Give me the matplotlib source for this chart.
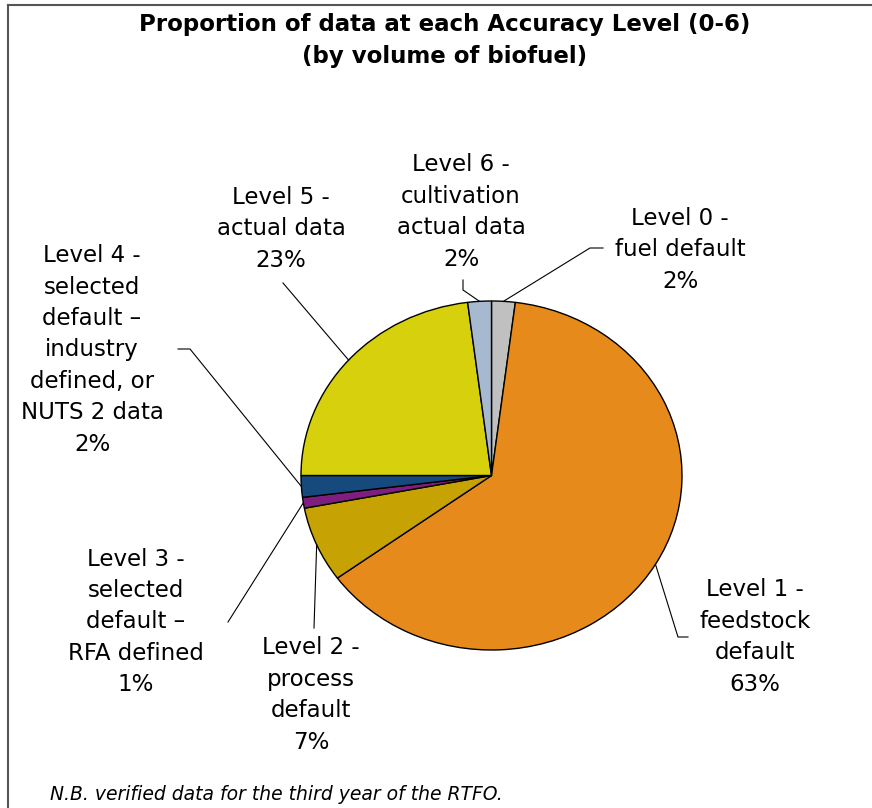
import numpy as np
import matplotlib
matplotlib.use("Agg")
import matplotlib.pyplot as plt
from matplotlib.lines import Line2D

# accuracy levels, clockwise from 12 o'clock
levels = ["Level 0 -\nfuel default", "Level 1 -\nfeedstock\ndefault",
          "Level 2 -\nprocess\ndefault", "Level 3 -\nselected\ndefault \u2013\nRFA defined",
          "Level 4 -\nselected\ndefault \u2013\nindustry\ndefined, or\nNUTS 2 data",
          "Level 5 -\nactual data", "Level 6 -\ncultivation\nactual data"]
shares = [2, 63, 7, 1, 2, 23, 2]
colors = ["#C0C0C0", "#E68B1B", "#C6A203", "#7E1F80", "#174A7C", "#D6D00D", "#A6B9CF"]

W, H = 872, 808
# label centre (px, from top) and leader line bend points (px, from top)
label_pos = [(680, 250), (755, 637), (311, 695), (136, 622), (92, 350), (281, 229), (461, 212)]
leaders = [[(590, 248), (603, 248)], [(678, 637), (688, 637)], [(314, 628)],
           [(228, 622)], [(190, 349), (178, 349)], [(283, 283)], [(463, 290), (463, 280)]]

fig = plt.figure(figsize=(W / 100, H / 100), dpi=100)
ax = fig.add_axes([301 / W, 1 - 650 / H, 381 / W, 349 / H])
wedges, _ = ax.pie(shares, colors=colors, startangle=90, counterclock=False,
                   wedgeprops=dict(edgecolor="black", linewidth=1))
ax.set_aspect("auto")
ax.set_xlim(-1, 1)
ax.set_ylim(-1, 1)

fig.canvas.draw()


def px(p):
    return (p[0], H - p[1])


for w, lab, pos, pts, s in zip(wedges, levels, label_pos, leaders, shares):
    mid = np.deg2rad((w.theta1 + w.theta2) / 2)
    start = ax.transData.transform((np.cos(mid), np.sin(mid)))
    path = [tuple(start)] + [px(p) for p in pts]
    xs, ys = zip(*path)
    fig.add_artist(Line2D(xs, ys, color="black", linewidth=0.8, transform=None))
    fig.text(pos[0] / W, 1 - pos[1] / H, lab + "\n%d%%" % s, ha="center", va="center",
             multialignment="center", fontsize=16.5, linespacing=1.47, family="DejaVu Sans")

fig.text(445 / W, 1 - 40 / H, "Proportion of data at each Accuracy Level (0-6)\n(by volume of biofuel)",
         ha="center", va="center", fontsize=16.5, fontweight="bold", linespacing=1.5)
fig.text(50 / W, 1 - 795 / H, "N.B. verified data for the third year of the RTFO.",
         ha="left", va="center", fontsize=13.5, style="italic")

# outer frame (only top and left edges are visible)
fig.add_artist(Line2D([8, W], [H - 5, H - 5], color="#555555", linewidth=1.5, transform=None))
fig.add_artist(Line2D([8, 8], [0, H - 5], color="#555555", linewidth=1.5, transform=None))

fig.savefig("out.png", dpi=100)
